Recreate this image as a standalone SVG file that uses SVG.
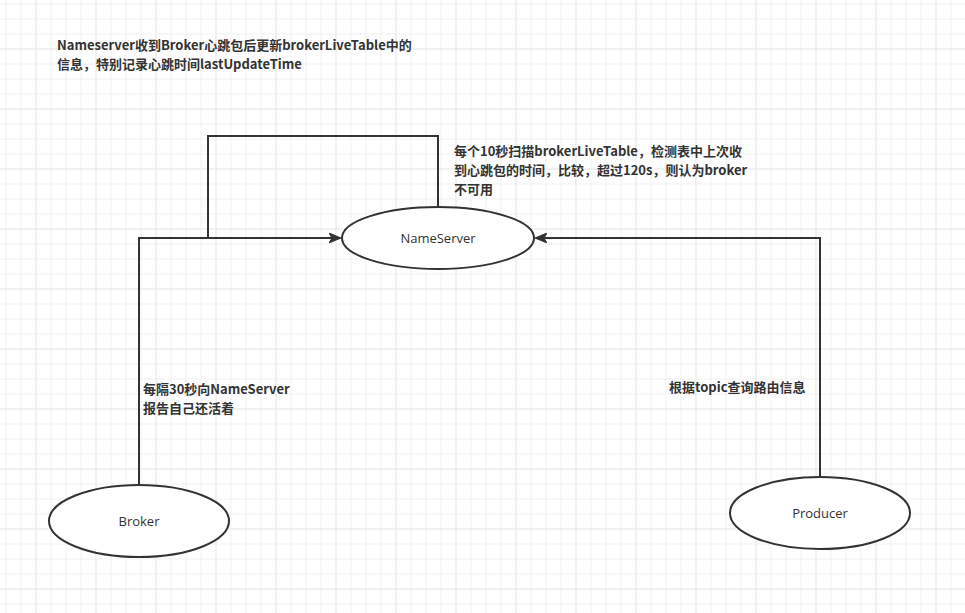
<svg xmlns="http://www.w3.org/2000/svg" width="965" height="613" viewBox="0 0 965 613">
<defs>
<pattern id="minor" width="15" height="15" patternUnits="userSpaceOnUse" x="5.5" y="3.5">
<path d="M0 0.5H15M0.5 0V15" fill="none" stroke="#f0f0f0" stroke-width="1"/>
</pattern>
<pattern id="major" width="60" height="60" patternUnits="userSpaceOnUse" x="35.5" y="48.5">
<path d="M0 0.5H60M0.5 0V60" fill="none" stroke="#e9e9e9" stroke-width="1"/>
</pattern>
<marker id="arr" markerWidth="12" markerHeight="10" refX="11" refY="5" orient="auto" markerUnits="userSpaceOnUse">
<path d="M0 0L12 5L0 10L3 5Z" fill="#333" stroke="#333" stroke-width="1"/>
</marker>
</defs>
<style>
.edge{fill:none;stroke:#333;stroke-width:2}
.node{fill:#fff;stroke:#333;stroke-width:2}
.lbl{font-family:"Segoe UI","Open Sans","Noto Sans",sans-serif;font-size:13px;fill:#333;text-anchor:middle}
.note{font-family:"Noto Sans CJK SC","Microsoft YaHei",sans-serif;font-size:13px;font-weight:bold;fill:#333}
</style>
<rect width="965" height="613" fill="#fff"/>
<rect width="965" height="613" fill="url(#minor)"/>
<rect width="965" height="613" fill="url(#major)"/>
<g id="connectors">
<path class="edge" d="M139 485V238H340" marker-end="url(#arr)"/>
<path class="edge" d="M438 207V136H208V238"/>
<path class="edge" d="M820 477V238H536" marker-end="url(#arr)"/>
</g>
<g id="nameserver">
<ellipse class="node" cx="438" cy="238" rx="96" ry="31"/>
<text class="lbl" x="438" y="243">NameServer</text>
</g>
<g id="broker">
<ellipse class="node" cx="139" cy="521" rx="90" ry="36"/>
<text class="lbl" x="139" y="526">Broker</text>
</g>
<g id="producer">
<ellipse class="node" cx="820" cy="513" rx="90" ry="36"/>
<text class="lbl" x="820" y="518">Producer</text>
</g>
<g id="notes">
<text class="note"><tspan x="57" y="50">Nameserver收到Broker心跳包后更新brokerLiveTable中的</tspan><tspan x="57" y="69">信息，特别记录心跳时间lastUpdateTime</tspan></text>
<text class="note"><tspan x="454" y="156">每个10秒扫描brokerLiveTable，检测表中上次收</tspan><tspan x="454" y="175">到心跳包的时间，比较，超过120s，则认为broker</tspan><tspan x="454" y="194">不可用</tspan></text>
<text class="note"><tspan x="143" y="394">每隔30秒向NameServer</tspan><tspan x="143" y="413">报告自己还活着</tspan></text>
<text class="note" x="669" y="392">根据topic查询路由信息</text>
</g>
</svg>
